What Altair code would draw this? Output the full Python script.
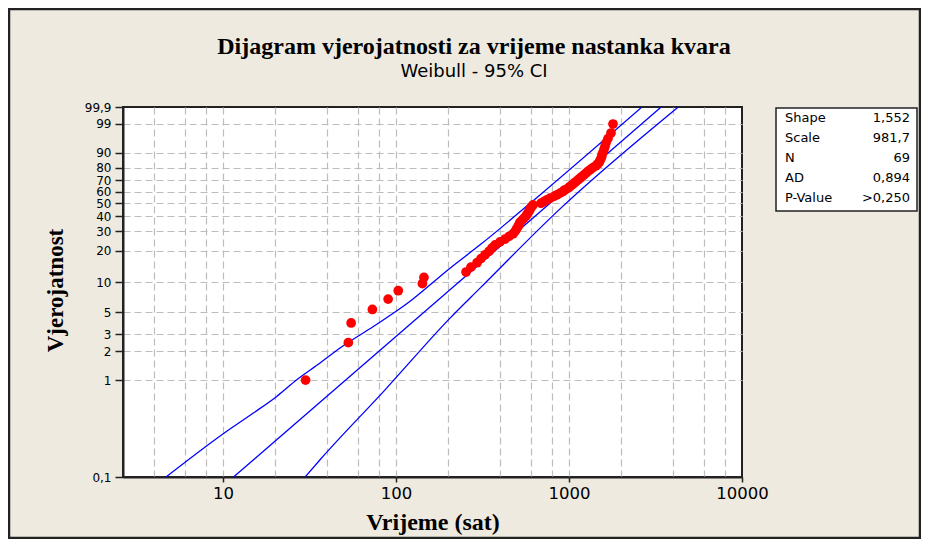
import math
import pandas as pd
import altair as alt

# ---------------- data ----------------
title_text = "Dijagram vjerojatnosti za vrijeme nastanka kvara"
subtitle_text = "Weibull - 95% CI"
x_title = "Vrijeme (sat)"
y_title = "Vjerojatnost"

failure_times = [30, 53, 55, 73, 90, 103, 142, 145,
                 254, 271, 294, 310, 327, 345, 359, 374, 399, 427,
                 450, 475, 488, 497, 507, 514, 521, 535, 550, 564,
                 572, 583, 591, 599, 607, 619,
                 689, 717, 746, 777, 819, 852, 887, 923, 948, 987,
                 1013, 1041, 1069, 1098, 1127, 1158, 1189, 1221, 1254, 1288,
                 1331, 1376, 1432, 1471, 1501, 1521, 1541, 1551, 1572, 1593,
                 1614, 1636, 1680, 1749, 1796]

upper_x = [4.68, 10.17, 14.97, 20.43, 26.67, 36.37, 47.46, 73.9, 115.3, 205.2, 305.9, 679.8, 2642]
upper_pct = [0.1, 0.286, 0.46, 0.684, 1.017, 1.512, 2.155, 3.58, 6.08, 13.67, 22.62, 57.07, 99.9]
lower_x = [29.8, 36.37, 86.4, 205.2, 305.9, 887.1, 4283]
lower_pct = [0.1, 0.151, 0.80, 4.36, 8.72, 45.42, 99.9]
fit_x = [11.5, 3410]
fit_pct = [0.1, 99.9]

y_tick_pct = [0.1, 1, 2, 3, 5, 10, 20, 30, 40, 50, 60, 70, 80, 90, 99, 99.9]
x_grid_values = [4, 6, 8, 10, 20, 40, 60, 80, 100, 200, 400, 600, 800,
                 1000, 2000, 4000, 6000, 8000, 10000]
x_label_values = [10, 100, 1000, 10000]

stat_names = ["Shape", "Scale", "N", "AD", "P-Value"]
stat_values = ["1,552", "981,7", "69", "0,894", ">0,250"]


def wb(p):
    return math.log(-math.log(1 - p / 100.0))


W, H = 619, 370
SANS = "DejaVu Sans"
SERIF = "Liberation Serif"
YLO, YHI = wb(0.1), wb(99.9)

xscale = alt.Scale(type="log", domain=[2.64, 10000], nice=False)
yscale = alt.Scale(type="linear", domain=[YLO, YHI], nice=False, zero=False)

decades = "[" + ",".join(str(v) for v in x_label_values) + "]"
xaxis = alt.Axis(
    values=x_grid_values, format="d",
    labelExpr=f"indexof({decades}, datum.value) >= 0 ? datum.label : ''",
    tickOpacity={"condition": {"test": f"indexof({decades}, datum.value) < 0", "value": 0}, "value": 1},
    tickSize=5, tickColor="#222", tickWidth=1.5,
    grid=True, gridColor="#bdbdbd", gridDash=[7, 4], gridWidth=1.2,
    gridOpacity={"condition": {"test": "datum.value >= 9999", "value": 0}, "value": 1},
    domainColor="#222", domainWidth=2,
    labelFont=SANS, labelFontSize=16.5, labelColor="black", labelPadding=3,
    labelFlush=False, labelOverlap=False,
    title=x_title, titleFont=SERIF, titleFontWeight="bold", titleFontSize=24,
    titleColor="black", titleX=309.5, titleY=45, titleBaseline="middle", titleAlign="center",
)
yaxis = alt.Axis(
    values=[wb(p) for p in y_tick_pct],
    labelExpr="replace(format(100*(1-exp(-exp(datum.value))), '.1~f'), '.', ',')",
    tickSize=8, tickColor="#222", tickWidth=1.5,
    grid=True, gridColor="#bdbdbd", gridDash=[7, 4], gridWidth=1.2,
    gridOpacity={"condition": {"test": f"datum.value > {YHI - 0.01} || datum.value < {YLO + 0.01}",
                               "value": 0}, "value": 1},
    domainColor="#222", domainWidth=2,
    labelFont=SANS, labelFontSize=12, labelColor="black", labelPadding=4,
    labelFlush=False, labelOverlap=False,
    title=y_title, titleFont=SERIF, titleFontWeight="bold", titleFontSize=23,
    titleColor="black", titleX=-68, titleY=183, titleAngle=-90,
    titleBaseline="middle", titleAlign="center",
)

pts_df = pd.DataFrame({"time": failure_times})
lines_df = pd.concat([
    pd.DataFrame({"x": upper_x, "pct": upper_pct, "curve": "upper"}),
    pd.DataFrame({"x": lower_x, "pct": lower_pct, "curve": "lower"}),
    pd.DataFrame({"x": fit_x, "pct": fit_pct, "curve": "fit"}),
], ignore_index=True)

points = (
    alt.Chart(pts_df)
    .transform_window(rank="row_number()", sort=[alt.SortField("time", order="ascending")])
    .transform_joinaggregate(n="count()")
    .transform_calculate(p="(datum.rank - 0.3) / (datum.n + 0.4)")
    .transform_calculate(wy="log(-log(1 - datum.p))")
    .mark_circle(size=95, color="#ff0000", opacity=1)
    .encode(x=alt.X("time:Q", scale=xscale, axis=xaxis),
            y=alt.Y("wy:Q", scale=yscale, axis=yaxis))
)

lines = (
    alt.Chart(lines_df)
    .transform_calculate(wy="log(-log(1 - datum.pct / 100))")
    .mark_line(color="#0000ff", strokeWidth=1.3, interpolate="monotone", clip=True)
    .encode(x=alt.X("x:Q", scale=xscale, axis=xaxis),
            y=alt.Y("wy:Q", scale=yscale, axis=yaxis),
            detail="curve:N")
)

one = pd.DataFrame({"title": [title_text], "subtitle": [subtitle_text],
                    "names": ["\n".join(stat_names)], "vals": ["\n".join(stat_values)]})

title_mark = alt.Chart(one).mark_text(
    font=SERIF, fontWeight="bold", fontSize=24, color="black", align="center", baseline="middle"
).encode(text="title:N", x=alt.value(351), y=alt.value(-60))

subtitle_mark = alt.Chart(one).mark_text(
    font=SANS, fontSize=18, color="black", align="center", baseline="middle"
).encode(text="subtitle:N", x=alt.value(351), y=alt.value(-35))

stats_box = alt.Chart(one).mark_rect(fill="white", stroke="#222", strokeWidth=1.5).encode(
    x=alt.value(653), x2=alt.value(794), y=alt.value(1), y2=alt.value(104))

stats_names = alt.Chart(one).mark_text(
    font=SANS, fontSize=13, color="black", align="left", baseline="middle",
    lineBreak="\n", lineHeight=20
).encode(text="names:N", x=alt.value(662), y=alt.value(11))

stats_vals = alt.Chart(one).mark_text(
    font=SANS, fontSize=13, color="black", align="right", baseline="middle",
    lineBreak="\n", lineHeight=20
).encode(text="vals:N", x=alt.value(787), y=alt.value(11))

frame = alt.Chart(one).mark_rect(fillOpacity=0, stroke="#222", strokeWidth=2.5).encode(
    x=alt.value(-114), x2=alt.value(W + 178), y=alt.value(-98), y2=alt.value(H + 61))

chart = alt.layer(
    lines, points, stats_box, stats_names, stats_vals, title_mark, subtitle_mark, frame
).properties(
    width=W, height=H,
    autosize=alt.AutoSizeParams(type="none"),
    padding={"left": 115, "top": 99, "right": 179, "bottom": 62},
).configure(background="#EEEAE0").configure_view(fill="white", stroke="#222", strokeWidth=2)

chart.save("out.html", embed_options={"renderer": "svg", "actions": False})
